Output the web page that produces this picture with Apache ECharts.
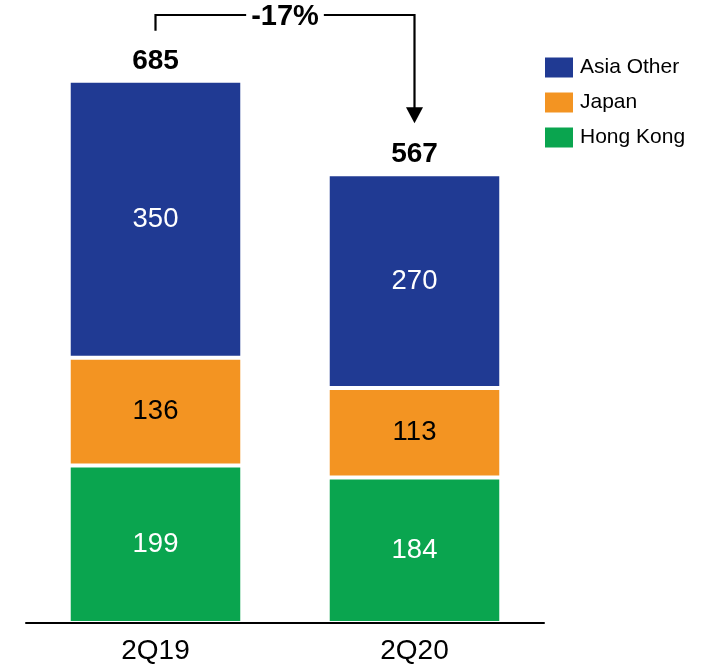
<!DOCTYPE html>
<html>
<head>
<meta charset="utf-8">
<script src="https://cdn.jsdelivr.net/npm/echarts@6/dist/echarts.min.js"></script>
<style>
  html, body { margin: 0; padding: 0; background: #fff; }
  #chart { width: 712px; height: 665px; }
</style>
</head>
<body>
<div id="chart"></div>
<script>
// Quarterly revenue by region (stacked)
const quarters = ['2Q19', '2Q20'];
const hongKong = [199, 184];
const japan = [136, 113];
const asiaOther = [350, 270];
const legendOrder = ['Asia Other', 'Japan', 'Hong Kong'];

const colors = { asiaOther: '#203A93', japan: '#F39422', hongKong: '#0AA54F' };
const FONT = "'Liberation Sans', Arial, sans-serif";

const totals = quarters.map((_, i) => hongKong[i] + japan[i] + asiaOther[i]);
const changePct = Math.round((totals[1] - totals[0]) / totals[0] * 100);

function segment(name, data, color, labelColor) {
  return {
    name: name,
    type: 'bar',
    stack: 'total',
    barWidth: '67%',
    data: data,
    itemStyle: { color: color, borderColor: '#fff', borderWidth: 2 },
    label: {
      show: true,
      position: 'inside',
      color: labelColor,
      fontFamily: FONT,
      fontSize: 27.5
    },
    emphasis: { disabled: true },
    silent: true
  };
}

const chart = echarts.init(document.getElementById('chart'), null, { renderer: 'canvas' });

chart.setOption({
  animation: false,
  backgroundColor: '#fff',
  grid: { left: 26, right: 168, top: 69, bottom: 42 },
  legend: {
    data: legendOrder,
    orient: 'vertical',
    left: 540,
    top: 52,
    icon: 'rect',
    itemWidth: 28,
    itemHeight: 20,
    itemGap: 14,
    selectedMode: false,
    itemStyle: { borderWidth: 0 },
    textStyle: { fontFamily: FONT, fontSize: 21, color: '#000', padding: [0, 0, 0, 2] }
  },
  xAxis: {
    type: 'category',
    data: quarters,
    z: 10,
    axisLine: { lineStyle: { color: '#000', width: 2 } },
    axisTick: { show: false },
    axisLabel: { color: '#000', fontFamily: FONT, fontSize: 28, margin: 14 }
  },
  yAxis: {
    type: 'value',
    min: 0,
    max: 700,
    show: false
  },
  series: [
    segment('Hong Kong', hongKong, colors.hongKong, '#fff'),
    segment('Japan', japan, colors.japan, '#000'),
    segment('Asia Other', asiaOther, colors.asiaOther, '#fff'),
    {
      name: 'Total',
      type: 'scatter',
      data: totals,
      symbolSize: 0,
      itemStyle: { color: 'transparent', opacity: 1 },
      label: {
        show: true,
        position: 'top',
        distance: 6,
        color: '#000',
        fontFamily: FONT,
        fontWeight: 'bold',
        fontSize: 28
      },
      emphasis: { disabled: true },
      silent: true,
      z: 5
    }
  ]
});

// Change bracket from the first total to the second, with the percentage in the middle
const x0 = chart.convertToPixel({ xAxisIndex: 0 }, quarters[0]);
const x1 = chart.convertToPixel({ xAxisIndex: 0 }, quarters[1]);
const yTop0 = chart.convertToPixel({ yAxisIndex: 0 }, totals[0]);
const yTop1 = chart.convertToPixel({ yAxisIndex: 0 }, totals[1]);
const bracketY = 15;
const leftEnd = yTop0 - 50;
const tipY = yTop1 - 51;
const headH = 16, headW = 8.5;
const lineStyle = { stroke: '#000', lineWidth: 2.2, fill: null };

chart.setOption({
  graphic: [
    {
      type: 'polyline',
      shape: { points: [[x0, leftEnd], [x0, bracketY], [x1, bracketY], [x1, tipY - headH + 1]] },
      style: lineStyle,
      silent: true
    },
    {
      type: 'polygon',
      shape: { points: [[x1 - headW, tipY - headH], [x1 + headW, tipY - headH], [x1, tipY]] },
      style: { fill: '#000' },
      silent: true
    },
    {
      type: 'text',
      x: (x0 + x1) / 2,
      y: bracketY + 2,
      style: {
        text: (changePct > 0 ? '+' : '') + changePct + '%',
        font: 'bold 29px ' + FONT,
        fill: '#000',
        align: 'center',
        verticalAlign: 'middle',
        backgroundColor: '#fff',
        padding: [0, 5]
      },
      z: 20,
      silent: true
    }
  ]
});
</script>
</body>
</html>
